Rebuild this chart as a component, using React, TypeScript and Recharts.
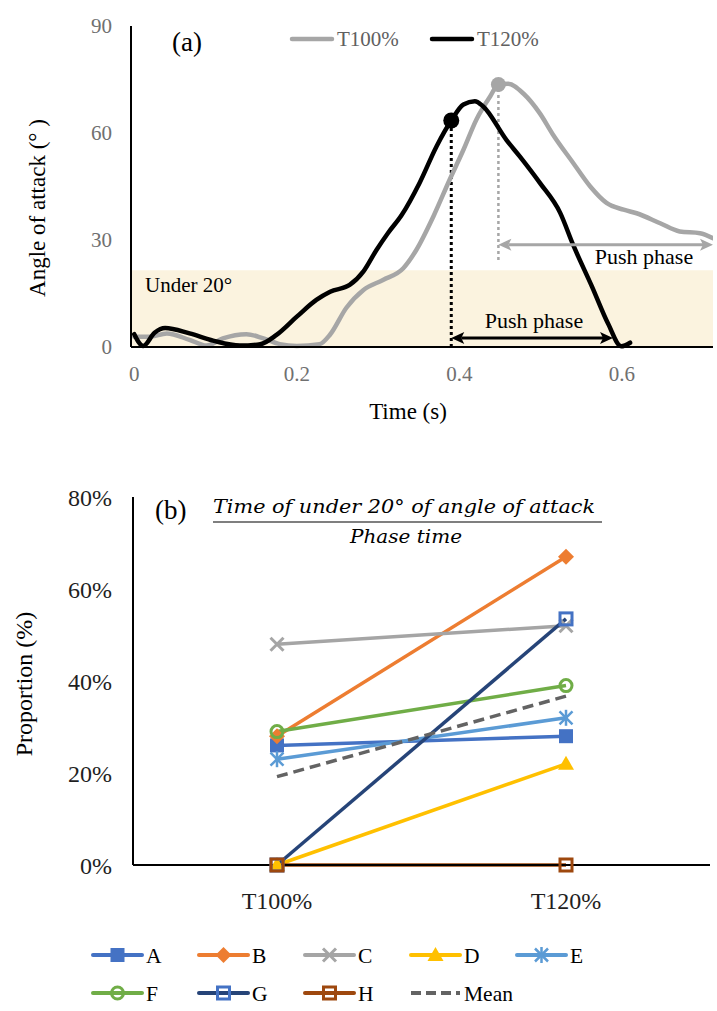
import React from 'react';
import { LineChart, Line, XAxis, YAxis, ReferenceArea, ReferenceLine, ReferenceDot } from 'recharts';

const SERIF = '"Liberation Serif", "Times New Roman", serif';

// ---------- Chart (a) data ----------
const timeT100 = [0, 0.019, 0.04, 0.068, 0.089, 0.109, 0.138, 0.159, 0.179, 0.2, 0.228, 0.241, 0.261, 0.282, 0.306, 0.331, 0.347, 0.368, 0.388, 0.405, 0.421, 0.438, 0.448, 0.46, 0.479, 0.499, 0.515, 0.54, 0.561, 0.581, 0.602, 0.618, 0.647, 0.671, 0.696, 0.712];
const angleT100 = [2.9, 2.9, 3.8, 2, 0.4, 2.4, 3.6, 2.4, 0.8, 0.3, 0.8, 3.5, 11, 16, 18.8, 22.1, 27.2, 36.6, 46.9, 55.3, 63.8, 70.3, 73.6, 73.8, 71, 65.5, 59.6, 51.6, 45, 40.4, 38.5, 37.5, 34.7, 32.4, 31.9, 30.5];
const timeT120 = [0, 0.011, 0.025, 0.038, 0.068, 0.097, 0.13, 0.155, 0.175, 0.2, 0.224, 0.241, 0.265, 0.282, 0.298, 0.312, 0.329, 0.351, 0.372, 0.39, 0.405, 0.419, 0.429, 0.458, 0.474, 0.499, 0.524, 0.54, 0.563, 0.583, 0.599, 0.61];
const angleT120 = [3.6, 0.3, 4, 5.3, 3.8, 1.8, 0.4, 0.8, 3.4, 8.5, 13.2, 15.5, 17.4, 21.2, 27.2, 31.9, 37, 46, 56.3, 63.5, 68, 68.9, 67.5, 58, 53.5, 46, 37.6, 28.6, 17, 6.5, 0.2, 1.2];
const aTicksX = [0, 0.2, 0.4, 0.6];
const aTicksY = [0, 30, 60, 90];
const underThreshold = 21.5;
const peakT100 = { t: 0.448, v: 73.6 };
const peakT120 = { t: 0.39, v: 63.5 };
const grayDropTo = 24.4;
const pushT100 = { from: 0.448, to: 0.712, level: 28.7 };
const pushT120 = { from: 0.39, to: 0.589, level: 2.5 };

const t100Data = timeT100.map((t, i) => ({ t, v: angleT100[i] }));
const t120Data = timeT120.map((t, i) => ({ t, v: angleT120[i] }));

// ---------- Chart (b) data ----------
const categories = ['T100%', 'T120%'];
const valuesA = [26, 28];
const valuesB = [28, 67];
const valuesC = [48, 52];
const valuesD = [0, 22];
const valuesE = [23, 32];
const valuesF = [29, 39];
const valuesG = [0, 53.5];
const valuesH = [0, 0];
const valuesMean = [19.2, 36.7];
const bTicksY = [0, 20, 40, 60, 80];

type MarkerType = 'square' | 'diamond' | 'x' | 'triangle' | 'star' | 'circle' | 'squareOpen' | 'none';
interface SeriesDef { key: string; values: number[]; color: string; marker: MarkerType; markerColor: string; dashed?: boolean; }

const seriesB: SeriesDef[] = [
  { key: 'A', values: valuesA, color: '#4472C4', marker: 'square', markerColor: '#4472C4' },
  { key: 'B', values: valuesB, color: '#ED7D31', marker: 'diamond', markerColor: '#ED7D31' },
  { key: 'C', values: valuesC, color: '#A5A5A5', marker: 'x', markerColor: '#A5A5A5' },
  { key: 'D', values: valuesD, color: '#FFC000', marker: 'triangle', markerColor: '#FFC000' },
  { key: 'E', values: valuesE, color: '#5B9BD5', marker: 'star', markerColor: '#5B9BD5' },
  { key: 'F', values: valuesF, color: '#70AD47', marker: 'circle', markerColor: '#70AD47' },
  { key: 'G', values: valuesG, color: '#264478', marker: 'squareOpen', markerColor: '#4472C4' },
  { key: 'H', values: valuesH, color: '#9E480E', marker: 'squareOpen', markerColor: '#9E480E' },
  { key: 'Mean', values: valuesMean, color: '#636363', marker: 'none', markerColor: '#636363', dashed: true },
];

const bData = categories.map((cat, i) => {
  const row: Record<string, any> = { cat };
  seriesB.forEach((s) => { row[s.key] = s.values[i]; });
  return row;
});

function Marker({ type, cx, cy, color }: { type: MarkerType; cx: number; cy: number; color: string }) {
  switch (type) {
    case 'square':
      return <rect x={cx - 7} y={cy - 7} width={14} height={14} fill={color} />;
    case 'diamond':
      return <polygon points={`${cx},${cy - 8} ${cx + 8},${cy} ${cx},${cy + 8} ${cx - 8},${cy}`} fill={color} />;
    case 'x':
      return (
        <g stroke={color} strokeWidth={3}>
          <line x1={cx - 6.5} y1={cy - 6.5} x2={cx + 6.5} y2={cy + 6.5} />
          <line x1={cx - 6.5} y1={cy + 6.5} x2={cx + 6.5} y2={cy - 6.5} />
        </g>
      );
    case 'triangle':
      return <polygon points={`${cx},${cy - 8} ${cx + 8},${cy + 6} ${cx - 8},${cy + 6}`} fill={color} />;
    case 'star':
      return (
        <g stroke={color} strokeWidth={2.5}>
          <line x1={cx - 6.5} y1={cy - 6.5} x2={cx + 6.5} y2={cy + 6.5} />
          <line x1={cx - 6.5} y1={cy + 6.5} x2={cx + 6.5} y2={cy - 6.5} />
          <line x1={cx} y1={cy - 8} x2={cx} y2={cy + 8} />
        </g>
      );
    case 'circle':
      return <circle cx={cx} cy={cy} r={6} fill="none" stroke={color} strokeWidth={3} />;
    case 'squareOpen':
      return <rect x={cx - 6} y={cy - 6} width={12} height={12} fill="none" stroke={color} strokeWidth={3} />;
    default:
      return null;
  }
}

const makeArrow = (color: string) => (props: any) => {
  const { x1, y1, x2, y2 } = props;
  const h = 13;
  const w = 6;
  return (
    <g>
      <line x1={x1 + h - 3} y1={y1} x2={x2 - h + 3} y2={y2} stroke={color} strokeWidth={3} />
      <polygon points={`${x1},${y1} ${x1 + h},${y1 - w} ${x1 + h - 3},${y1} ${x1 + h},${y1 + w}`} fill={color} />
      <polygon points={`${x2},${y2} ${x2 - h},${y2 - w} ${x2 - h + 3},${y2} ${x2 - h},${y2 + w}`} fill={color} />
    </g>
  );
};

const axisLine = { stroke: '#000', strokeWidth: 2 };

export default function App() {
  const legendBRows = seriesB.map((s, i) => {
    const col = i % 5;
    const row = Math.floor(i / 5);
    return { s, x: 93 + col * 106, y: row === 0 ? 955 : 993 };
  });

  return (
    <div style={{ position: 'absolute', left: 0, top: 0, width: 717, height: 1011, background: '#fff' }}>
      <div style={{ position: 'absolute', left: 0, top: 0 }}>
        <LineChart width={717} height={440} margin={{ top: 26, right: 4, left: 0, bottom: 0 }}>
          <ReferenceArea y1={0} y2={underThreshold} fill="#FBF3DF" fillOpacity={1} stroke="none" ifOverflow="visible" />
          <XAxis
            type="number"
            dataKey="t"
            domain={[-0.004, 0.712]}
            ticks={aTicksX}
            allowDataOverflow
            tickLine={false}
            tickSize={0}
            tickMargin={19}
            height={93}
            axisLine={axisLine}
            tick={{ fill: '#707070', fontSize: 21, fontFamily: SERIF }}
          />
          <YAxis
            type="number"
            domain={[0, 90]}
            ticks={aTicksY}
            width={131}
            tickLine={false}
            tickSize={0}
            tickMargin={19}
            axisLine={axisLine}
            tick={{ fill: '#707070', fontSize: 21, fontFamily: SERIF }}
          />
          <ReferenceLine
            segment={[{ x: peakT100.t, y: grayDropTo }, { x: peakT100.t, y: peakT100.v }]}
            stroke="#A6A6A6"
            strokeWidth={2.5}
            strokeDasharray="3 3"
            ifOverflow="visible"
          />
          <ReferenceLine
            segment={[{ x: peakT120.t, y: 0 }, { x: peakT120.t, y: peakT120.v }]}
            stroke="#000"
            strokeWidth={3}
            strokeDasharray="3 3"
            ifOverflow="visible"
          />
          <Line data={t100Data} dataKey="v" type="monotone" stroke="#A6A6A6" strokeWidth={4.5} dot={false} strokeLinecap="round" strokeLinejoin="round" isAnimationActive={false} />
          <Line data={t120Data} dataKey="v" type="monotone" stroke="#000" strokeWidth={4.5} dot={false} strokeLinecap="round" strokeLinejoin="round" isAnimationActive={false} />
          <ReferenceDot x={peakT100.t} y={peakT100.v} r={7.5} fill="#A6A6A6" stroke="none" ifOverflow="visible" />
          <ReferenceDot x={peakT120.t} y={peakT120.v} r={8} fill="#000" stroke="none" ifOverflow="visible" />
          <ReferenceLine
            segment={[{ x: pushT100.from, y: pushT100.level }, { x: pushT100.to, y: pushT100.level }]}
            shape={makeArrow('#A6A6A6')}
            ifOverflow="visible"
          />
          <ReferenceLine
            segment={[{ x: pushT120.from, y: pushT120.level }, { x: pushT120.to, y: pushT120.level }]}
            shape={makeArrow('#000')}
            ifOverflow="visible"
          />
        </LineChart>
      </div>

      <div style={{ position: 'absolute', left: 0, top: 460 }}>
        <LineChart width={717} height={551} data={bData} margin={{ top: 37, right: 7, left: 0, bottom: 0 }}>
          <XAxis
            dataKey="cat"
            padding={{ left: 144, right: 144 }}
            tickLine={false}
            tickSize={0}
            tickMargin={27}
            height={146}
            axisLine={axisLine}
            tick={{ fill: '#1f1f1f', fontSize: 24, fontFamily: SERIF }}
          />
          <YAxis
            type="number"
            domain={[0, 80]}
            ticks={bTicksY}
            tickFormatter={(v: number) => `${v}%`}
            width={133}
            tickLine={false}
            tickSize={0}
            tickMargin={21}
            axisLine={axisLine}
            tick={{ fill: '#1f1f1f', fontSize: 24, fontFamily: SERIF }}
          />
          {seriesB.map((s) => (
            <Line
              key={s.key}
              dataKey={s.key}
              type="linear"
              stroke={s.color}
              strokeWidth={3.5}
              strokeDasharray={s.dashed ? '11 6' : undefined}
              isAnimationActive={false}
              dot={(p: any) => (
                <g key={`${s.key}-${p.index}`}>
                  <Marker type={s.marker} cx={p.cx} cy={p.cy} color={s.markerColor} />
                </g>
              )}
              activeDot={false}
            />
          ))}
        </LineChart>
      </div>

      <svg width={717} height={1011} style={{ position: 'absolute', left: 0, top: 0, pointerEvents: 'none' }}>
        {/* Chart (a) annotations */}
        <text x={172} y={51} fontFamily={SERIF} fontSize={27} fill="#000">(a)</text>
        <line x1={292} y1={39} x2={332} y2={39} stroke="#A6A6A6" strokeWidth={4.5} strokeLinecap="round" />
        <text x={337} y={46} fontFamily={SERIF} fontSize={21} fill="#606060">T100%</text>
        <line x1={432} y1={39} x2={472} y2={39} stroke="#000" strokeWidth={4.5} strokeLinecap="round" />
        <text x={477} y={46} fontFamily={SERIF} fontSize={21} fill="#606060">T120%</text>
        <text x={145} y={292} fontFamily={SERIF} fontSize={21} fill="#000">Under 20°</text>
        <text x={534} y={328} textAnchor="middle" fontFamily={SERIF} fontSize={22} fill="#000">Push phase</text>
        <text x={644} y={264} textAnchor="middle" fontFamily={SERIF} fontSize={22} fill="#000">Push phase</text>
        <text x={45} y={208} transform="rotate(-90, 45, 208)" textAnchor="middle" fontFamily={SERIF} fontSize={23} fill="#000">Angle of attack (°   )</text>
        <text x={408} y={419} textAnchor="middle" fontFamily={SERIF} fontSize={23} fill="#000">Time (s)</text>

        {/* Chart (b) annotations */}
        <text x={155} y={519} fontFamily={SERIF} fontSize={27} fill="#000">(b)</text>
        <text x={213} y={513} textLength={382} lengthAdjust="spacingAndGlyphs" fontFamily='"DejaVu Serif", serif' fontStyle="italic" fontSize={19} fill="#000">Time of under 20° of angle of attack</text>
        <line x1={213} y1={522} x2={602} y2={522} stroke="#7F7F7F" strokeWidth={2} />
        <text x={350} y={543} textLength={112} lengthAdjust="spacingAndGlyphs" fontFamily='"DejaVu Serif", serif' fontStyle="italic" fontSize={19} fill="#000">Phase time</text>
        <text x={32} y={684} transform="rotate(-90, 32, 684)" textAnchor="middle" fontFamily={SERIF} fontSize={24} fill="#000">Proportion (%)</text>

        {legendBRows.map(({ s, x, y }) => (
          <g key={s.key}>
            <line x1={x} y1={y} x2={x + 49} y2={y} stroke={s.color} strokeWidth={4} strokeDasharray={s.dashed ? '10 5' : undefined} strokeLinecap={s.dashed ? 'butt' : 'round'} />
            <Marker type={s.marker} cx={x + 24.5} cy={y} color={s.markerColor} />
            <text x={x + 53} y={y + 8} fontFamily={SERIF} fontSize={21.5} fill="#000">{s.key}</text>
          </g>
        ))}
      </svg>
    </div>
  );
}
